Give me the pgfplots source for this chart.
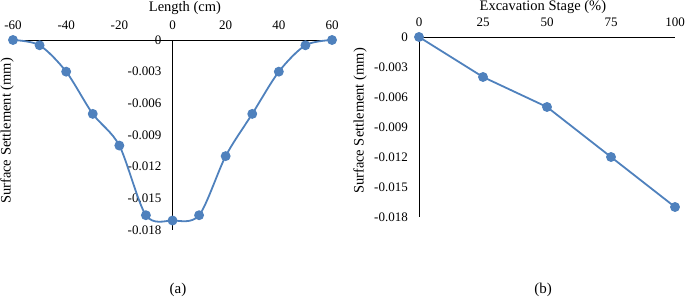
\documentclass[border=0pt]{standalone}
\usepackage{pgfplots}
\pgfplotsset{compat=1.18}
\usepackage{fontspec}
\setmainfont{Liberation Serif}
\definecolor{ser}{HTML}{4F81BD}
\begin{document}
\begin{tikzpicture}
\useasboundingbox (0pt,0pt) rectangle (685pt,297pt);
\pgfplotsset{
  every axis/.append style={
    scale only axis,
    major tick length=0pt,
    tick style={draw=none},
    scaled y ticks=false,
    hide obscured x ticks=false,
    hide obscured y ticks=false,
    ticklabel style={font=\fontsize{13}{14}\selectfont},
  },
}
% ---------- (a)
\begin{axis}[
  at={(13pt,67pt)}, anchor=south west,
  width=319pt, height=190pt,
  xmin=-60, xmax=60, ymin=-0.018, ymax=0,
  axis x line=top, axis y line=middle,
  x axis line style={-, line width=0.9pt, black},
  y axis line style={-, line width=0.9pt, black},
  xtick={-60,-40,-20,0,20,40,60},
  xticklabels={-60,-40,-20,0,20,40,60},
  ytick={-0.018,-0.015,-0.012,-0.009,-0.006,-0.003,0},
  yticklabels={-0.018,-0.015,-0.012,-0.009,-0.006,-0.003,0},
  xticklabel style={anchor=base, inner sep=0pt, yshift=10pt},
  yticklabel style={anchor=east, inner sep=0pt, xshift=-11pt},
  xlabel={Length (cm)},
  xlabel style={at={(rel axis cs:0.539,1.168)}, anchor=center, font=\fontsize{14.5}{16}\selectfont},
  ylabel={Surface Settlement (mm)},
  ylabel style={at={(rel axis cs:-0.0188,0.521)}, anchor=center, rotate=90, font=\fontsize{14.5}{16}\selectfont},
  clip=false,
]
\addplot[ser, line width=1.8pt, smooth, mark=*, mark size=4pt, mark options={fill=ser, draw=ser}] coordinates {
  (-60,0) (-50,-0.0005) (-40,-0.003) (-30,-0.007) (-20,-0.010) (-10,-0.0166)
  (0,-0.0171) (10,-0.0166) (20,-0.011) (30,-0.007) (40,-0.003) (50,-0.0005) (60,0)
};
\end{axis}
% ---------- (b)
\begin{axis}[
  at={(419pt,80pt)}, anchor=south west,
  width=256pt, height=180pt,
  xmin=0, xmax=100, ymin=-0.018, ymax=0,
  axis x line=top, axis y line=left,
  x axis line style={-, line width=0.9pt, black},
  y axis line style={-, line width=0.9pt, black},
  xtick={0,25,50,75,100},
  xticklabels={0,25,50,75,100},
  ytick={-0.018,-0.015,-0.012,-0.009,-0.006,-0.003,0},
  yticklabels={-0.018,-0.015,-0.012,-0.009,-0.006,-0.003,0},
  xticklabel style={anchor=base, inner sep=0pt, yshift=10pt},
  yticklabel style={anchor=east, inner sep=0pt, xshift=-11pt},
  xlabel={Excavation Stage (\%)},
  xlabel style={at={(rel axis cs:0.484,1.165)}, anchor=center, font=\fontsize{14.5}{16}\selectfont},
  ylabel={Surface Settlement (mm)},
  ylabel style={at={(rel axis cs:-0.2305,0.533)}, anchor=center, font=\fontsize{14.5}{16}\selectfont},
  clip=false,
]
\addplot[ser, line width=1.8pt, mark=*, mark size=4pt, mark options={fill=ser, draw=ser}] coordinates {
  (0,0) (25,-0.004) (50,-0.007) (75,-0.012) (100,-0.017)
};
\end{axis}
\node[font=\fontsize{15}{16}\selectfont] at (178pt,7pt) {(a)};
\node[font=\fontsize{15}{16}\selectfont] at (543pt,7pt) {(b)};
\end{tikzpicture}
\end{document}
